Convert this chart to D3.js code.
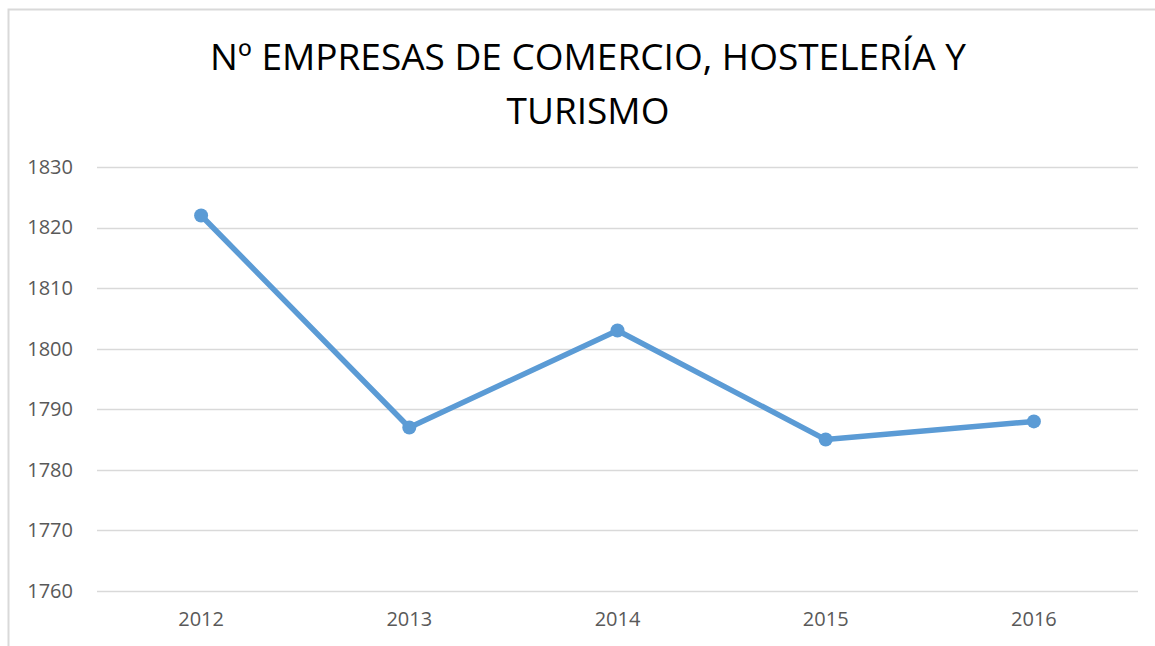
<!DOCTYPE html>
<html>
<head>
<meta charset="utf-8">
<script src="https://cdn.jsdelivr.net/npm/d3@7"></script>
<style>
  html, body { margin: 0; padding: 0; background: #fff; }
  svg { display: block; }
</style>
</head>
<body>
<svg id="chart" width="1155" height="646"></svg>
<script>
// Number of businesses per year
const years = ["2012", "2013", "2014", "2015", "2016"];
const empresas = [1822, 1787, 1803, 1785, 1788];
const yTicks = [1760, 1770, 1780, 1790, 1800, 1810, 1820, 1830];
const titleLines = ["Nº EMPRESAS DE COMERCIO, HOSTELERÍA Y", "TURISMO"];

const svg = d3.select("#chart");
const font = "'Open Sans', 'Noto Sans', sans-serif";
const blue = "#5B9BD5";

// Outer chart frame
svg.append("rect")
  .attr("x", 8.5).attr("y", 9.5)
  .attr("width", 1200).attr("height", 700)
  .attr("fill", "#fff")
  .attr("stroke", "#d9d9d9").attr("stroke-width", 2);

const plot = { left: 97, right: 1138, top: 167, bottom: 591 };

const x = d3.scaleBand().domain(years).range([plot.left, plot.right]);
const y = d3.scaleLinear().domain([1760, 1830]).range([plot.bottom, plot.top]);

// Horizontal gridlines
svg.append("g")
  .selectAll("line")
  .data(yTicks)
  .join("line")
  .attr("x1", plot.left).attr("x2", plot.right)
  .attr("y1", d => Math.round(y(d)) + 0.5).attr("y2", d => Math.round(y(d)) + 0.5)
  .attr("stroke", "#d9d9d9").attr("stroke-width", 1.5);

// Y axis labels
const yAxis = svg.append("g")
  .attr("transform", `translate(${plot.left - 24},0)`)
  .call(d3.axisLeft(y).tickValues(yTicks).tickSize(0).tickPadding(0).tickFormat(d3.format("d")));
yAxis.select(".domain").remove();
yAxis.selectAll("text")
  .attr("font-family", font).attr("font-size", 20).attr("fill", "#595959");

// X axis labels
const xAxis = svg.append("g")
  .attr("transform", `translate(0,${plot.bottom})`)
  .call(d3.axisBottom(x).tickSize(0).tickPadding(21));
xAxis.select(".domain").remove();
xAxis.selectAll("text")
  .attr("font-family", font).attr("font-size", 20).attr("fill", "#595959");

// Series line
const pts = years.map((yr, i) => ({ yr, v: empresas[i] }));
const line = d3.line()
  .x(d => x(d.yr) + x.bandwidth() / 2)
  .y(d => y(d.v));

svg.append("path")
  .datum(pts)
  .attr("d", line)
  .attr("fill", "none")
  .attr("stroke", blue)
  .attr("stroke-width", 5.5)
  .attr("stroke-linejoin", "round")
  .attr("stroke-linecap", "round");

svg.append("g")
  .selectAll("circle")
  .data(pts)
  .join("circle")
  .attr("cx", d => x(d.yr) + x.bandwidth() / 2)
  .attr("cy", d => y(d.v))
  .attr("r", 7)
  .attr("fill", blue);

// Title
const title = svg.append("text")
  .attr("text-anchor", "middle")
  .attr("font-family", font)
  .attr("font-size", 37)
  .attr("fill", "#000");
title.selectAll("tspan")
  .data(titleLines)
  .join("tspan")
  .attr("x", 588)
  .attr("y", (d, i) => 70 + i * 54)
  .text(d => d);
</script>
</body>
</html>
